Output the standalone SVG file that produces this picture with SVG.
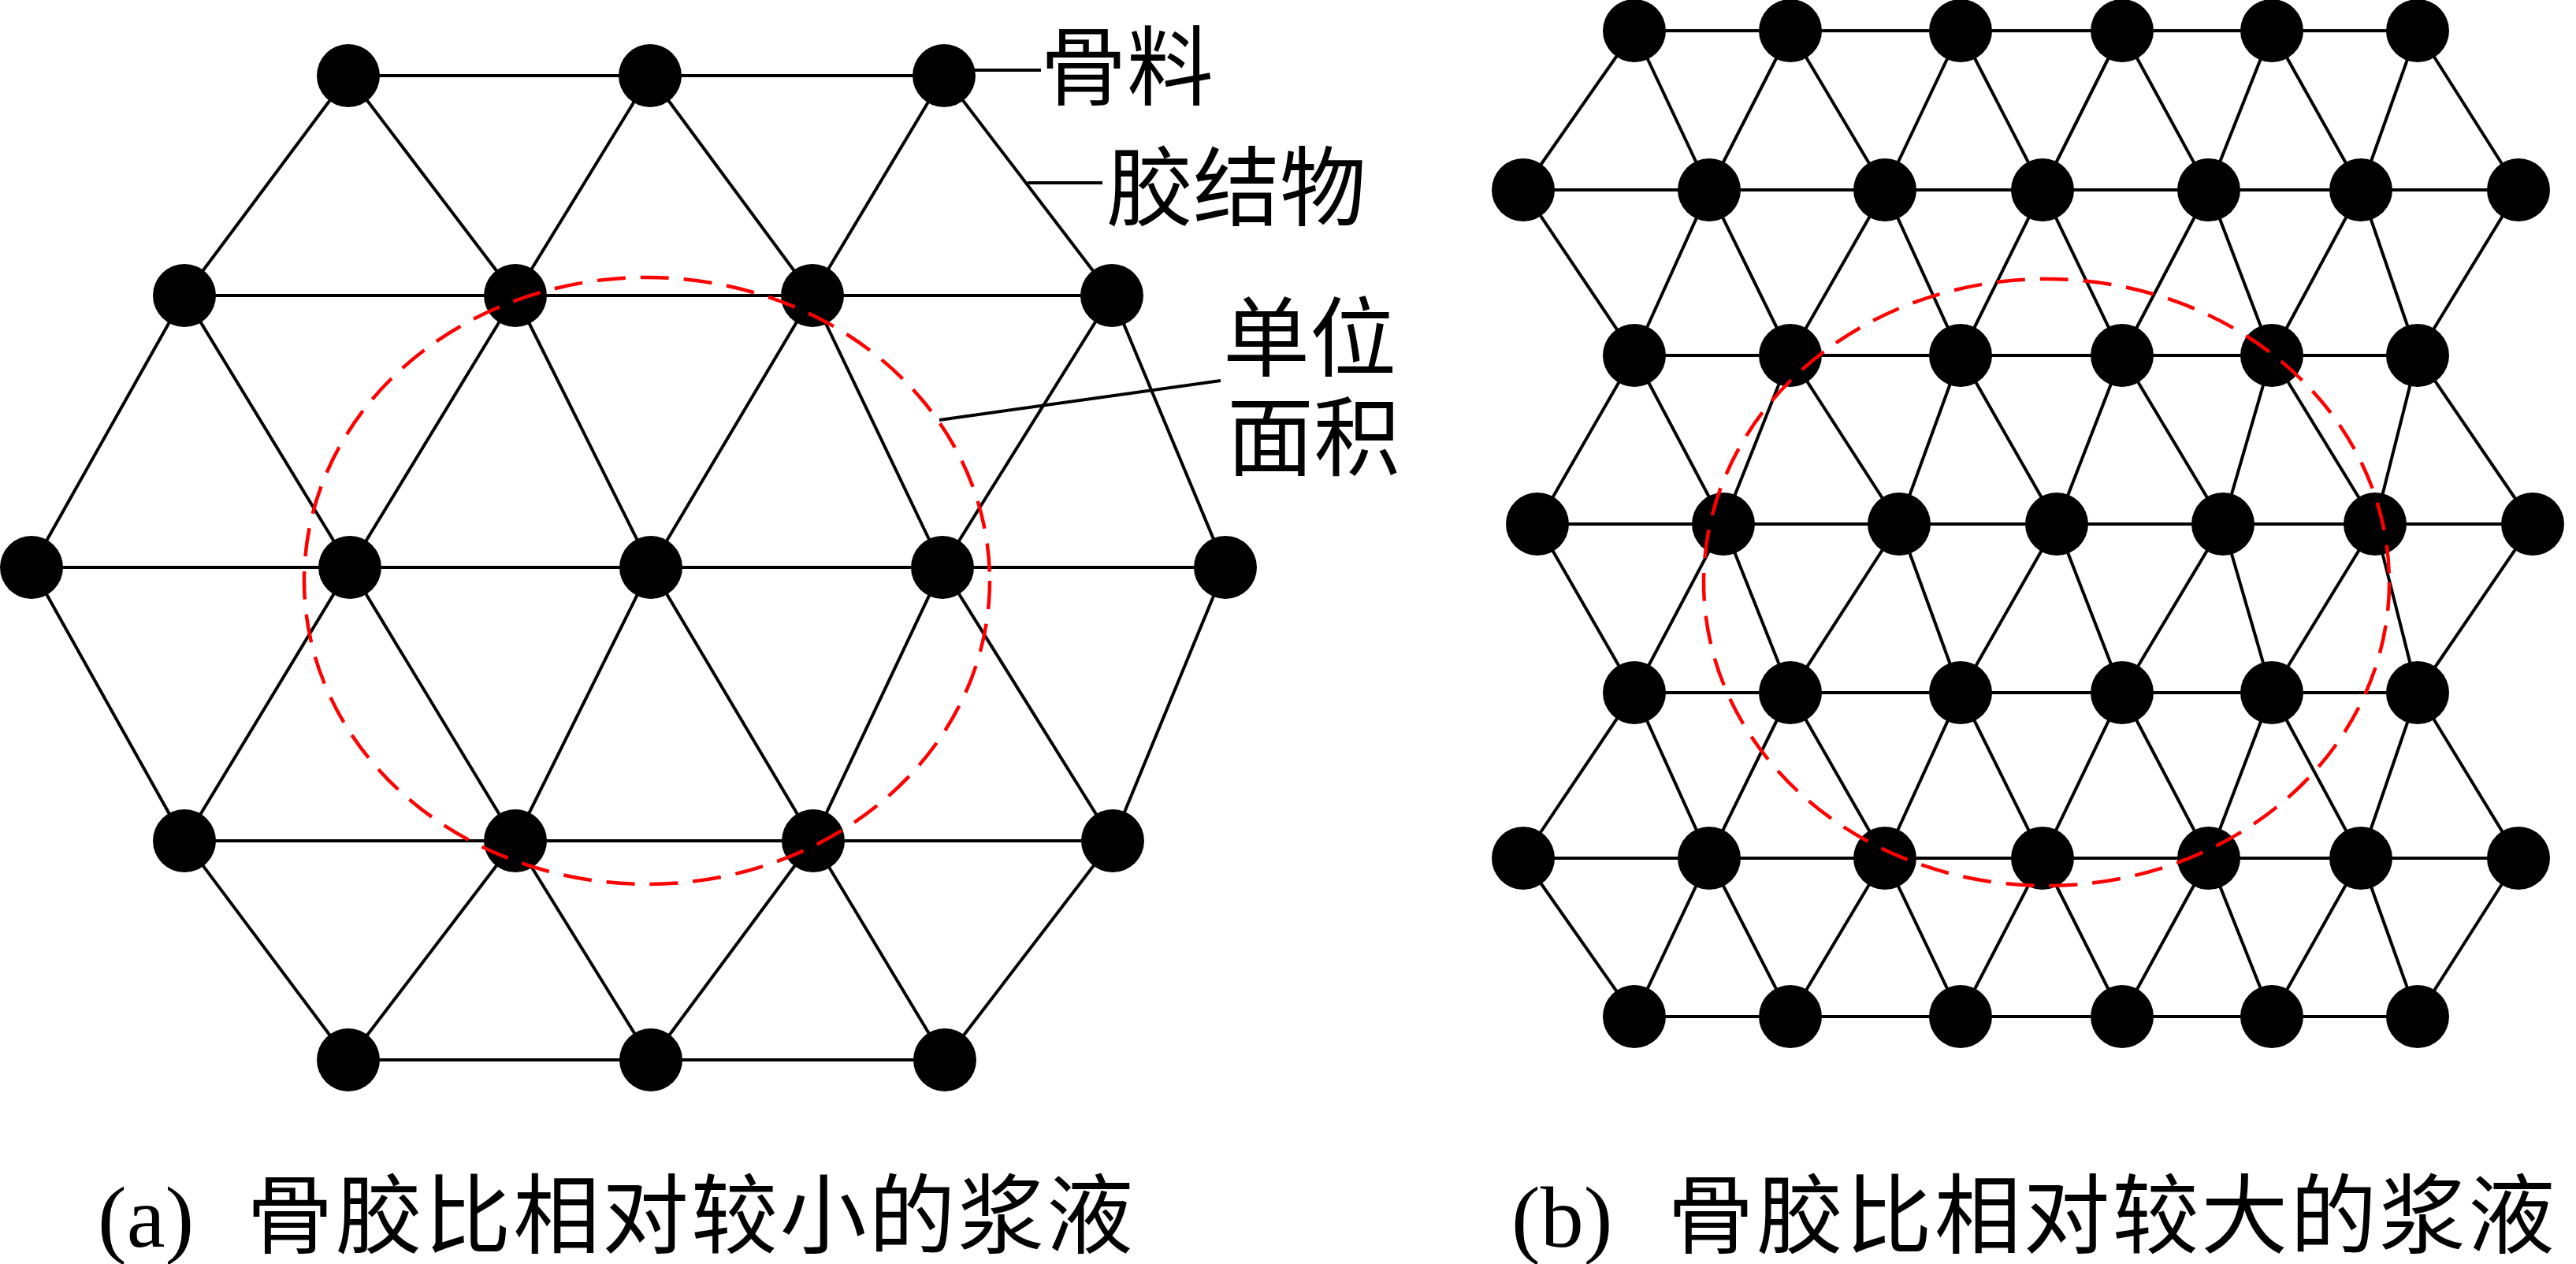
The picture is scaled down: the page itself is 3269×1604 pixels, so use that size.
<svg xmlns="http://www.w3.org/2000/svg" width="3269" height="1604" viewBox="0 0 3269 1604">
<defs>
<style>
.e{stroke:#000;stroke-width:4;fill:none}
.n{fill:#000}
.area{fill:none;stroke:#ff0000;stroke-width:4.5;stroke-dasharray:36 19}
.t{font-family:"Liberation Serif","Noto Sans CJK SC",serif;font-size:110px;fill:#000}
</style>
</defs>
<rect width="3269" height="1604" fill="#fff"/>
<g id="connectors-a">
<line class="e" x1="442" y1="96" x2="825" y2="96"/><line class="e" x1="825" y1="96" x2="1198" y2="96"/>
<line class="e" x1="234" y1="375" x2="654" y2="375"/><line class="e" x1="654" y1="375" x2="1031" y2="375"/><line class="e" x1="1031" y1="375" x2="1411" y2="375"/>
<line class="e" x1="40" y1="720" x2="444" y2="720"/><line class="e" x1="444" y1="720" x2="826" y2="720"/><line class="e" x1="826" y1="720" x2="1196" y2="720"/><line class="e" x1="1196" y1="720" x2="1555" y2="720"/>
<line class="e" x1="234" y1="1067" x2="654" y2="1067"/><line class="e" x1="654" y1="1067" x2="1032" y2="1067"/><line class="e" x1="1032" y1="1067" x2="1412" y2="1067"/>
<line class="e" x1="442" y1="1345" x2="826" y2="1345"/><line class="e" x1="826" y1="1345" x2="1199" y2="1345"/>
<line class="e" x1="442" y1="96" x2="234" y2="375"/><line class="e" x1="442" y1="96" x2="654" y2="375"/>
<line class="e" x1="825" y1="96" x2="654" y2="375"/><line class="e" x1="825" y1="96" x2="1031" y2="375"/>
<line class="e" x1="1198" y1="96" x2="1031" y2="375"/><line class="e" x1="1198" y1="96" x2="1411" y2="375"/>
<line class="e" x1="234" y1="375" x2="40" y2="720"/><line class="e" x1="234" y1="375" x2="444" y2="720"/>
<line class="e" x1="654" y1="375" x2="444" y2="720"/><line class="e" x1="654" y1="375" x2="826" y2="720"/>
<line class="e" x1="1031" y1="375" x2="826" y2="720"/><line class="e" x1="1031" y1="375" x2="1196" y2="720"/>
<line class="e" x1="1411" y1="375" x2="1196" y2="720"/><line class="e" x1="1411" y1="375" x2="1555" y2="720"/>
<line class="e" x1="234" y1="1067" x2="40" y2="720"/><line class="e" x1="234" y1="1067" x2="444" y2="720"/>
<line class="e" x1="654" y1="1067" x2="444" y2="720"/><line class="e" x1="654" y1="1067" x2="826" y2="720"/>
<line class="e" x1="1032" y1="1067" x2="826" y2="720"/><line class="e" x1="1032" y1="1067" x2="1196" y2="720"/>
<line class="e" x1="1412" y1="1067" x2="1196" y2="720"/><line class="e" x1="1412" y1="1067" x2="1555" y2="720"/>
<line class="e" x1="442" y1="1345" x2="234" y2="1067"/><line class="e" x1="442" y1="1345" x2="654" y2="1067"/>
<line class="e" x1="826" y1="1345" x2="654" y2="1067"/><line class="e" x1="826" y1="1345" x2="1032" y2="1067"/>
<line class="e" x1="1199" y1="1345" x2="1032" y2="1067"/><line class="e" x1="1199" y1="1345" x2="1412" y2="1067"/>
<line class="e" x1="1198" y1="89" x2="1321" y2="89"/>
<line class="e" x1="1304" y1="232" x2="1399" y2="232"/>
<line class="e" x1="1192" y1="533" x2="1549" y2="483"/>
</g>
<g id="connectors-b">
<line class="e" x1="2074" y1="39" x2="3068" y2="39"/>
<line class="e" x1="1933" y1="241" x2="3196" y2="241"/>
<line class="e" x1="2074" y1="451" x2="3068" y2="451"/>
<line class="e" x1="1951" y1="665" x2="3214" y2="665"/>
<line class="e" x1="2074" y1="879" x2="3068" y2="879"/>
<line class="e" x1="1933" y1="1089" x2="3196" y2="1089"/>
<line class="e" x1="2074" y1="1290" x2="3068" y2="1290"/>
<line class="e" x1="2074" y1="39" x2="1933" y2="241"/><line class="e" x1="2074" y1="39" x2="2169" y2="241"/>
<line class="e" x1="2272" y1="39" x2="2169" y2="241"/><line class="e" x1="2272" y1="39" x2="2392" y2="241"/>
<line class="e" x1="2488" y1="39" x2="2392" y2="241"/><line class="e" x1="2488" y1="39" x2="2592" y2="241"/>
<line class="e" x1="2693" y1="39" x2="2592" y2="241"/><line class="e" x1="2693" y1="39" x2="2803" y2="241"/>
<line class="e" x1="2883" y1="39" x2="2803" y2="241"/><line class="e" x1="2883" y1="39" x2="2996" y2="241"/>
<line class="e" x1="3068" y1="39" x2="2996" y2="241"/><line class="e" x1="3068" y1="39" x2="3196" y2="241"/>
<line class="e" x1="2074" y1="451" x2="1933" y2="241"/><line class="e" x1="2074" y1="451" x2="2169" y2="241"/>
<line class="e" x1="2272" y1="451" x2="2169" y2="241"/><line class="e" x1="2272" y1="451" x2="2392" y2="241"/>
<line class="e" x1="2488" y1="451" x2="2392" y2="241"/><line class="e" x1="2488" y1="451" x2="2592" y2="241"/>
<line class="e" x1="2693" y1="451" x2="2592" y2="241"/><line class="e" x1="2693" y1="451" x2="2803" y2="241"/>
<line class="e" x1="2883" y1="451" x2="2803" y2="241"/><line class="e" x1="2883" y1="451" x2="2996" y2="241"/>
<line class="e" x1="3068" y1="451" x2="2996" y2="241"/><line class="e" x1="3068" y1="451" x2="3196" y2="241"/>
<line class="e" x1="2074" y1="451" x2="1951" y2="665"/><line class="e" x1="2074" y1="451" x2="2187" y2="665"/>
<line class="e" x1="2272" y1="451" x2="2187" y2="665"/><line class="e" x1="2272" y1="451" x2="2410" y2="665"/>
<line class="e" x1="2488" y1="451" x2="2410" y2="665"/><line class="e" x1="2488" y1="451" x2="2610" y2="665"/>
<line class="e" x1="2693" y1="451" x2="2610" y2="665"/><line class="e" x1="2693" y1="451" x2="2821" y2="665"/>
<line class="e" x1="2883" y1="451" x2="2821" y2="665"/><line class="e" x1="2883" y1="451" x2="3014" y2="665"/>
<line class="e" x1="3068" y1="451" x2="3014" y2="665"/><line class="e" x1="3068" y1="451" x2="3214" y2="665"/>
<line class="e" x1="2074" y1="879" x2="1951" y2="665"/><line class="e" x1="2074" y1="879" x2="2187" y2="665"/>
<line class="e" x1="2272" y1="879" x2="2187" y2="665"/><line class="e" x1="2272" y1="879" x2="2410" y2="665"/>
<line class="e" x1="2488" y1="879" x2="2410" y2="665"/><line class="e" x1="2488" y1="879" x2="2610" y2="665"/>
<line class="e" x1="2693" y1="879" x2="2610" y2="665"/><line class="e" x1="2693" y1="879" x2="2821" y2="665"/>
<line class="e" x1="2883" y1="879" x2="2821" y2="665"/><line class="e" x1="2883" y1="879" x2="3014" y2="665"/>
<line class="e" x1="3068" y1="879" x2="3014" y2="665"/><line class="e" x1="3068" y1="879" x2="3214" y2="665"/>
<line class="e" x1="2074" y1="879" x2="1933" y2="1089"/><line class="e" x1="2074" y1="879" x2="2169" y2="1089"/>
<line class="e" x1="2272" y1="879" x2="2169" y2="1089"/><line class="e" x1="2272" y1="879" x2="2392" y2="1089"/>
<line class="e" x1="2488" y1="879" x2="2392" y2="1089"/><line class="e" x1="2488" y1="879" x2="2592" y2="1089"/>
<line class="e" x1="2693" y1="879" x2="2592" y2="1089"/><line class="e" x1="2693" y1="879" x2="2803" y2="1089"/>
<line class="e" x1="2883" y1="879" x2="2803" y2="1089"/><line class="e" x1="2883" y1="879" x2="2996" y2="1089"/>
<line class="e" x1="3068" y1="879" x2="2996" y2="1089"/><line class="e" x1="3068" y1="879" x2="3196" y2="1089"/>
<line class="e" x1="2074" y1="1290" x2="1933" y2="1089"/><line class="e" x1="2074" y1="1290" x2="2169" y2="1089"/>
<line class="e" x1="2272" y1="1290" x2="2169" y2="1089"/><line class="e" x1="2272" y1="1290" x2="2392" y2="1089"/>
<line class="e" x1="2488" y1="1290" x2="2392" y2="1089"/><line class="e" x1="2488" y1="1290" x2="2592" y2="1089"/>
<line class="e" x1="2693" y1="1290" x2="2592" y2="1089"/><line class="e" x1="2693" y1="1290" x2="2803" y2="1089"/>
<line class="e" x1="2883" y1="1290" x2="2803" y2="1089"/><line class="e" x1="2883" y1="1290" x2="2996" y2="1089"/>
<line class="e" x1="3068" y1="1290" x2="2996" y2="1089"/><line class="e" x1="3068" y1="1290" x2="3196" y2="1089"/>
</g>
<g id="nodes-a">
<circle id="a1" class="n" cx="442" cy="96" r="40"/><circle id="a2" class="n" cx="825" cy="96" r="40"/><circle id="a3" class="n" cx="1198" cy="96" r="40"/>
<circle id="b1" class="n" cx="234" cy="375" r="40"/><circle id="b2" class="n" cx="654" cy="375" r="40"/><circle id="b3" class="n" cx="1031" cy="375" r="40"/><circle id="b4" class="n" cx="1411" cy="375" r="40"/>
<circle id="c1" class="n" cx="40" cy="720" r="40"/><circle id="c2" class="n" cx="444" cy="720" r="40"/><circle id="c3" class="n" cx="826" cy="720" r="40"/><circle id="c4" class="n" cx="1196" cy="720" r="40"/><circle id="c5" class="n" cx="1555" cy="720" r="40"/>
<circle id="d1" class="n" cx="234" cy="1067" r="40"/><circle id="d2" class="n" cx="654" cy="1067" r="40"/><circle id="d3" class="n" cx="1032" cy="1067" r="40"/><circle id="d4" class="n" cx="1412" cy="1067" r="40"/>
<circle id="e1" class="n" cx="442" cy="1345" r="40"/><circle id="e2" class="n" cx="826" cy="1345" r="40"/><circle id="e3" class="n" cx="1199" cy="1345" r="40"/>
</g>
<g id="nodes-b">
<circle class="n" cx="2074" cy="39" r="40"/><circle class="n" cx="2272" cy="39" r="40"/><circle class="n" cx="2488" cy="39" r="40"/><circle class="n" cx="2693" cy="39" r="40"/><circle class="n" cx="2883" cy="39" r="40"/><circle class="n" cx="3068" cy="39" r="40"/>
<circle class="n" cx="1933" cy="241" r="40"/><circle class="n" cx="2169" cy="241" r="40"/><circle class="n" cx="2392" cy="241" r="40"/><circle class="n" cx="2592" cy="241" r="40"/><circle class="n" cx="2803" cy="241" r="40"/><circle class="n" cx="2996" cy="241" r="40"/><circle class="n" cx="3196" cy="241" r="40"/>
<circle class="n" cx="2074" cy="451" r="40"/><circle class="n" cx="2272" cy="451" r="40"/><circle class="n" cx="2488" cy="451" r="40"/><circle class="n" cx="2693" cy="451" r="40"/><circle class="n" cx="2883" cy="451" r="40"/><circle class="n" cx="3068" cy="451" r="40"/>
<circle class="n" cx="1951" cy="665" r="40"/><circle class="n" cx="2187" cy="665" r="40"/><circle class="n" cx="2410" cy="665" r="40"/><circle class="n" cx="2610" cy="665" r="40"/><circle class="n" cx="2821" cy="665" r="40"/><circle class="n" cx="3014" cy="665" r="40"/><circle class="n" cx="3214" cy="665" r="40"/>
<circle class="n" cx="2074" cy="879" r="40"/><circle class="n" cx="2272" cy="879" r="40"/><circle class="n" cx="2488" cy="879" r="40"/><circle class="n" cx="2693" cy="879" r="40"/><circle class="n" cx="2883" cy="879" r="40"/><circle class="n" cx="3068" cy="879" r="40"/>
<circle class="n" cx="1933" cy="1089" r="40"/><circle class="n" cx="2169" cy="1089" r="40"/><circle class="n" cx="2392" cy="1089" r="40"/><circle class="n" cx="2592" cy="1089" r="40"/><circle class="n" cx="2803" cy="1089" r="40"/><circle class="n" cx="2996" cy="1089" r="40"/><circle class="n" cx="3196" cy="1089" r="40"/>
<circle class="n" cx="2074" cy="1290" r="40"/><circle class="n" cx="2272" cy="1290" r="40"/><circle class="n" cx="2488" cy="1290" r="40"/><circle class="n" cx="2693" cy="1290" r="40"/><circle class="n" cx="2883" cy="1290" r="40"/><circle class="n" cx="3068" cy="1290" r="40"/>
</g>
<g id="unit-area-a"><ellipse class="area" cx="821" cy="737" rx="435" ry="385"/></g>
<g id="unit-area-b"><ellipse class="area" cx="2597" cy="739" rx="435" ry="385"/></g>
<g id="labels">
<text class="t" x="1320" y="125">骨料</text>
<text class="t" x="1404" y="278">胶结物</text>
<text class="t" x="1552" y="469">单位</text>
<text class="t" x="1557" y="595">面积</text>
</g>
<g id="captions">
<text class="t" x="124" y="1582">(a)</text>
<text class="t" x="313" y="1582" textLength="1125" lengthAdjust="spacing">骨胶比相对较小的浆液</text>
<text class="t" x="1918" y="1582">(b)</text>
<text class="t" x="2116" y="1582" textLength="1126" lengthAdjust="spacing">骨胶比相对较大的浆液</text>
</g>
</svg>
